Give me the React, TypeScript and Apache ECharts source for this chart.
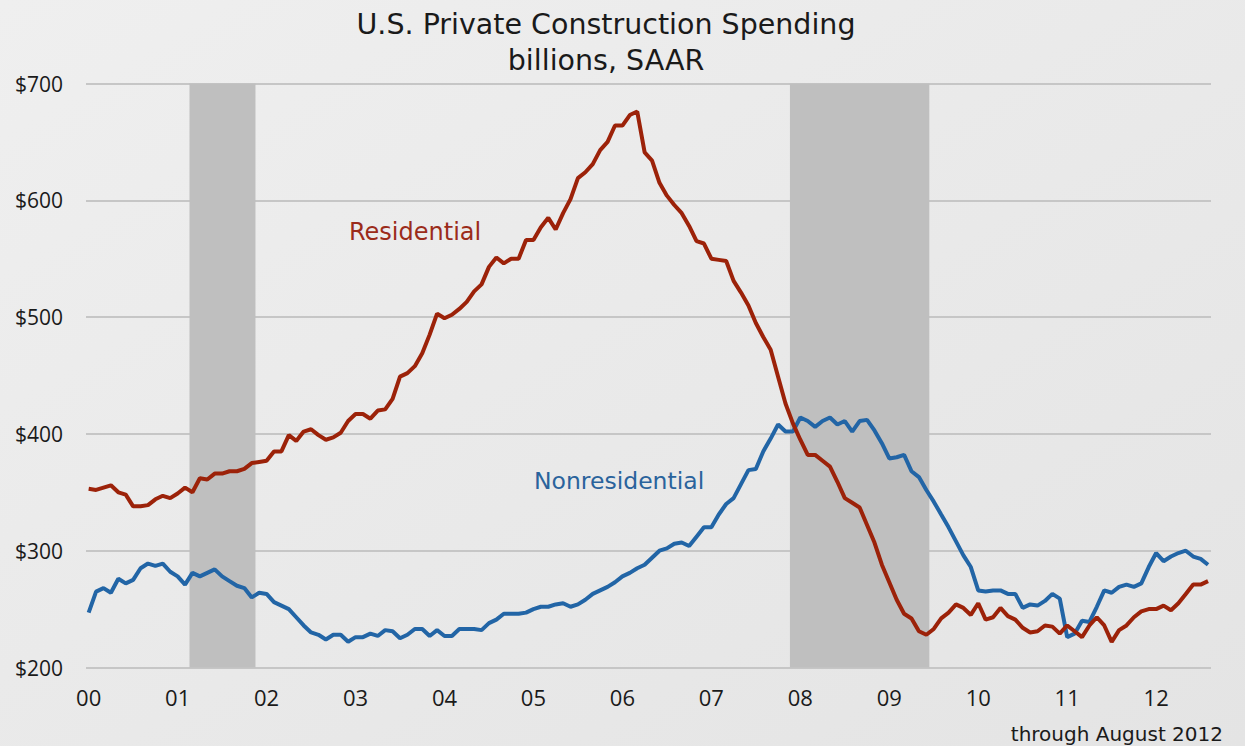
import React, { useEffect, useRef } from 'react';
import * as echarts from 'echarts';

// Month index 0 = Jan 2000 ... 151 = Aug 2012
const yearLabels = ['00', '01', '02', '03', '04', '05', '06', '07', '08', '09', '10', '11', '12'];

const residential = [
  353, 352, 354, 356, 350, 348, 338, 338, 339, 344, 347, 345,
  349, 354, 350, 362, 361, 366, 366, 368, 368, 370, 375, 376,
  377, 385, 385, 399, 394, 402, 404, 399, 395, 397, 401, 411,
  417, 417, 413, 420, 421, 430, 449, 452, 458, 469, 485, 503,
  499, 502, 507, 513, 522, 528, 543, 551, 546, 550, 550, 566,
  566, 577, 585, 575, 589, 601, 619, 624, 631, 643, 650, 664,
  664, 673, 676, 641, 634, 615, 604, 596, 589, 578, 565, 563,
  550, 549, 548, 531, 521, 510, 495, 483, 472, 449, 426, 409,
  395, 382, 382, 377, 372, 359, 345, 341, 337, 322, 307, 288,
  273, 258, 246, 242, 231, 228, 233, 242, 247, 254, 251, 245,
  255, 241, 243, 251, 244, 241, 234, 230, 231, 236, 235, 229,
  236, 231, 226, 236, 243, 236, 222, 232, 236, 243, 248, 250,
  250, 253, 249, 255, 263, 271, 271, 274,
];

const nonresidential = [
  247, 265, 268, 264, 276, 272, 275, 285, 289, 287, 289, 282,
  278, 271, 281, 278, 281, 284, 278, 274, 270, 268, 260, 264,
  263, 256, 253, 250, 243, 236, 230, 228, 224, 228, 228, 222,
  226, 226, 229, 227, 232, 231, 225, 228, 233, 233, 227, 232,
  227, 227, 233, 233, 233, 232, 238, 241, 246, 246, 246, 247,
  250, 252, 252, 254, 255, 252, 254, 258, 263, 266, 269, 273,
  278, 281, 285, 288, 294, 300, 302, 306, 307, 304, 312, 320,
  320, 331, 340, 345, 357, 369, 370, 385, 396, 408, 402, 402,
  414, 411, 406, 411, 414, 408, 411, 402, 411, 412, 403, 392,
  379, 380, 382, 368, 363, 352, 342, 331, 320, 308, 296, 286,
  266, 265, 266, 266, 263, 263, 251, 254, 253, 257, 263, 259,
  226, 229, 240, 239, 252, 266, 264, 269, 271, 269, 272, 286,
  298, 291, 295, 298, 300, 295, 293, 288,
];

// Recession periods, in month indices
const recessions: [number, number][] = [
  [13.6, 22.5],
  [94.6, 113.4],
];

const TEXT_FONT = 'DejaVu Sans';
const NUM_FONT = 'Open Sans';

export default function App() {
  const ref = useRef<HTMLDivElement>(null);

  useEffect(() => {
    if (!ref.current) return;
    const chart = echarts.init(ref.current, null, { renderer: 'svg' });
    const pairs = (arr: number[]) => arr.map((v, i) => [i, v]);

    chart.setOption({
      animation: false,
      backgroundColor: '#ececec',
      textStyle: { fontFamily: NUM_FONT },
      graphic: [
        {
          type: 'rect',
          z: -10,
          silent: true,
          shape: { x: 0, y: 0, width: 1245, height: 746 },
          style: {
            fill: new echarts.graphic.LinearGradient(0, 0, 1, 1, [
              { offset: 0, color: '#efefef' },
              { offset: 1, color: '#e4e4e4' },
            ]),
          },
        },
        {
          type: 'text',
          x: 606,
          y: 24,
          style: {
            text: 'U.S. Private Construction Spending',
            fontSize: 28.5,
            fontFamily: TEXT_FONT,
            fill: '#1a1a1a',
            align: 'center',
            verticalAlign: 'middle',
          },
        },
        {
          type: 'text',
          x: 606,
          y: 60,
          style: {
            text: 'billions, SAAR',
            fontSize: 28.5,
            fontFamily: TEXT_FONT,
            fill: '#1a1a1a',
            align: 'center',
            verticalAlign: 'middle',
          },
        },
        {
          type: 'text',
          x: 349,
          y: 232,
          z: 10,
          style: {
            text: 'Residential',
            fontSize: 24,
            fontFamily: TEXT_FONT,
            fill: '#9b2b1a',
            align: 'left',
            verticalAlign: 'middle',
          },
        },
        {
          type: 'text',
          x: 534,
          y: 481,
          z: 10,
          style: {
            text: 'Nonresidential',
            fontSize: 23.5,
            fontFamily: TEXT_FONT,
            fill: '#2a639c',
            align: 'left',
            verticalAlign: 'middle',
          },
        },
        {
          type: 'text',
          x: 1223,
          y: 734,
          style: {
            text: 'through August 2012',
            fontSize: 20,
            fontFamily: TEXT_FONT,
            fill: '#1a1a1a',
            align: 'right',
            verticalAlign: 'middle',
          },
        },
      ],
      grid: { left: 86, right: 34, top: 83.5, bottom: 78.5, containLabel: false },
      xAxis: {
        type: 'value',
        min: -0.36,
        max: 151.4,
        axisLine: { show: false },
        axisTick: { show: false },
        splitLine: { show: false },
        axisLabel: {
          customValues: yearLabels.map((_, i) => i * 12),
          formatter: (v: number) => yearLabels[Math.round(v / 12)] ?? '',
          fontSize: 22,
          fontFamily: NUM_FONT,
          color: '#1a1a1a',
          margin: 18,
        },
      },
      yAxis: {
        type: 'value',
        min: 200,
        max: 700,
        interval: 100,
        axisLine: { show: false },
        axisTick: { show: false },
        axisLabel: {
          formatter: '${value}',
          fontSize: 21,
          fontFamily: NUM_FONT,
          color: '#1a1a1a',
          margin: 23,
        },
        splitLine: { lineStyle: { color: '#c6c6c6', width: 2 } },
      },
      series: [
        {
          name: 'Nonresidential',
          type: 'line',
          data: pairs(nonresidential),
          showSymbol: false,
          symbol: 'none',
          lineStyle: { color: '#2265a6', width: 4 },
          itemStyle: { color: '#2265a6' },
          markArea: {
            silent: true,
            itemStyle: { color: '#bfbfbf' },
            data: recessions.map(([a, b]) => [{ xAxis: a }, { xAxis: b }]),
          },
        },
        {
          name: 'Residential',
          type: 'line',
          data: pairs(residential),
          showSymbol: false,
          symbol: 'none',
          lineStyle: { color: '#9c2209', width: 4 },
          itemStyle: { color: '#9c2209' },
        },
      ],
    });

    return () => chart.dispose();
  }, []);

  return (
    <div
      ref={ref}
      style={{ position: 'fixed', left: 0, top: 0, width: 1245, height: 746 }}
    />
  );
}
